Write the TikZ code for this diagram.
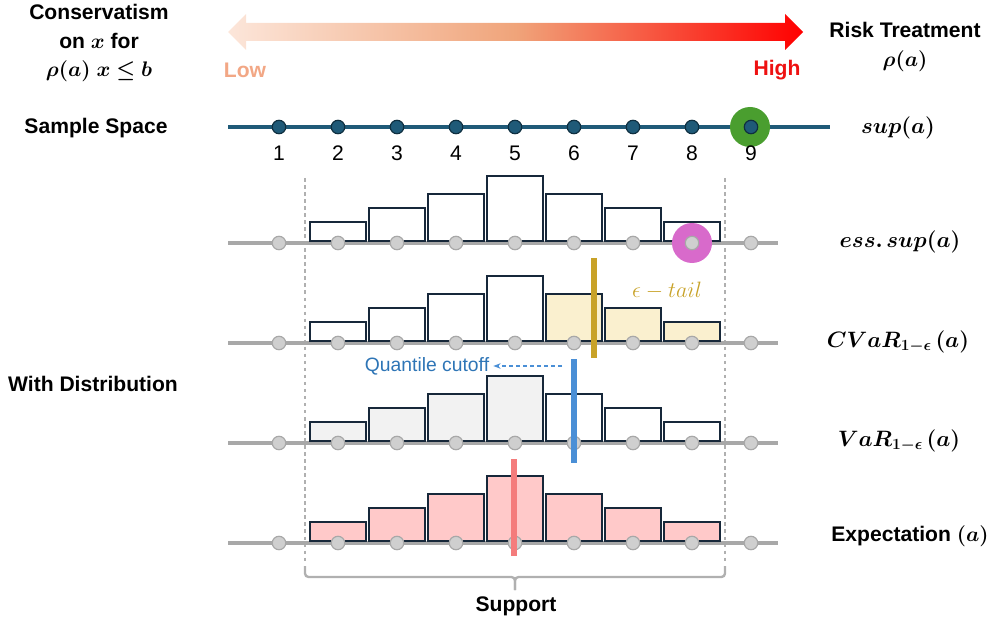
\RequirePackage{fix-cm}
\documentclass[tikz,border=0pt]{standalone}
\usepackage{amsmath,bm}
\usepackage{fontspec}
\setmainfont{Liberation Sans}
\setsansfont{Liberation Sans}
\definecolor{Axis}{HTML}{1F5A78}
\definecolor{AxisDark}{HTML}{0F2F40}
\definecolor{Grid}{HTML}{A8A8A8}
\definecolor{DotGray}{HTML}{CFCFCF}
\definecolor{BarEdge}{HTML}{17283A}
\definecolor{Tail}{HTML}{FAF0CF}
\definecolor{Body}{HTML}{F2F2F2}
\definecolor{Pink}{HTML}{FFC9C9}
\definecolor{Gold}{HTML}{C8A228}
\definecolor{Cut}{HTML}{4A8FD6}
\definecolor{CutText}{HTML}{2E75B6}
\definecolor{Mean}{HTML}{F47C7C}
\definecolor{SupGreen}{HTML}{4A9E2F}
\definecolor{EssPink}{HTML}{D86ACB}
\definecolor{LowTone}{HTML}{F2A785}
\definecolor{HighTone}{HTML}{EE1111}
\definecolor{Pale}{HTML}{FCE6DA}
\definecolor{Mid}{HTML}{F0A47A}
\definecolor{Brace}{HTML}{B0B0B0}
\usepackage{tikz}
\usetikzlibrary{arrows.meta,positioning,calc}
\tikzset{
  head/.style={font=\fontsize{18}{24}\selectfont\bfseries,align=center},
  metric/.style={font=\fontsize{19}{24}\selectfont},
  numlbl/.style={font=\fontsize{18}{24}\selectfont},
  sdot/.style={circle,draw=AxisDark,fill=Axis,line width=1pt,minimum size=11.5pt,inner sep=0pt},
  gdot/.style={circle,draw=Grid,fill=DotGray,line width=1pt,minimum size=11.5pt,inner sep=0pt},
  histbar/.style={draw=BarEdge,line width=1.6pt,fill=white},
  rail/.style={Grid,line width=2.6pt},
  marker/.style={line width=5pt},
  guide/.style={Brace,dashed,line width=1pt},
  cutarrow/.style={-{Stealth[length=2.2mm]},dashed,Cut,line width=1.1pt}
}
\begin{document}
\begin{tikzpicture}[x=0.03cm,y=-0.03cm]
  \useasboundingbox (0,0) rectangle (1000,621);
  \shade[left color=Pale,right color=red,middle color=Mid]
    (228,32) -- (246,14) -- (246,23) -- (785,23) -- (785,14) -- (803,32)
    -- (785,50) -- (785,41) -- (246,41) -- (246,50) -- cycle;
  \node[head,text=LowTone] (low) at (245,70) {Low};
  \node[head,text=HighTone] (high) at (777,70) {High};
  \node[head] (cons) at (99,43) {Conservatism\\on $\bm{x}$ for\\$\bm{\rho(a)\;x\le b}$};
  \node[head] (risk) at (905,47) {Risk Treatment\\$\bm{\rho(a)}$};
  \node[head] (samp) at (96,128) {Sample Space};
  \node[head] (dist) at (93,384) {With Distribution};

  \draw[Axis,line width=2.6pt] (228,127) -- (830,127);
  \fill[SupGreen] (750,127) circle (20);
  \foreach \i in {1,...,9} {
    \node[sdot] (s\i) at ({220+59*\i},127) {};
    \node[numlbl] (n\i) at ({220+59*\i},153) {\i};
  }

  \draw[guide] (305,178) -- (305,562);
  \draw[guide] (725,178) -- (725,562);

  \foreach \y/\fa/\fb in {243/white/white,343/white/Tail,443/Body/white,543/Pink/Pink} {
    \draw[rail] (228,\y) -- (778,\y);
    \foreach \k/\h in {2/19,3/33,4/47,5/65}
      \draw[histbar,fill=\fa] ({220+59*\k-28},{\y-2}) rectangle ({220+59*\k+28},{\y-2-\h});
    \foreach \k/\h in {6/47,7/33,8/19}
      \draw[histbar,fill=\fb] ({220+59*\k-28},{\y-2}) rectangle ({220+59*\k+28},{\y-2-\h});
  }
  \fill[EssPink] (692,243) circle (20);
  \foreach \y/\row in {243/ess,343/cvar,443/var,543/mean}
    \foreach \i in {1,...,9}
      \node[gdot] (\row\i) at ({220+59*\i},\y) {};

  \draw[marker,Gold] (594,258) -- (594,358);
  \node[metric,text=Gold] (tail) at (667,291) {$\epsilon - tail$};
  \draw[marker,Cut] (574,359) -- (574,463);
  \node[text=CutText,font=\fontsize{16.5}{20}\selectfont] (cutlbl) at (427,366) {Quantile cutoff};
  \coordinate (cutfrom) at (562,366);
  \draw[cutarrow] (cutfrom) -- (cutlbl.east);
  \draw[marker,Mean] (514,459) -- (514,556);

  \node[metric] (msup) at (898,128) {$\bm{sup(a)}$};
  \node[metric] (mess) at (900,242) {$\bm{ess.\,sup(a)}$};
  \node[metric] (mcvar) at (898,342) {$\bm{CVaR_{1-\epsilon}\,(a)}$};
  \node[metric] (mvar) at (899,441) {$\bm{VaR_{1-\epsilon}\,(a)}$};
  \node[head] (mexp) at (910,536) {Expectation $\bm{(a)}$};

  \coordinate (supL) at (305,566);
  \coordinate (supR) at (725,566);
  \coordinate (supM) at (515,590);
  \draw[Brace,line width=2pt,rounded corners=3pt] (supL) -- ++(0,11) -| (supM);
  \draw[Brace,line width=2pt,rounded corners=3pt] (supR) -- ++(0,11) -| (supM);
  \node[head] (supp) at (516,606) {Support};
\end{tikzpicture}
\end{document}
